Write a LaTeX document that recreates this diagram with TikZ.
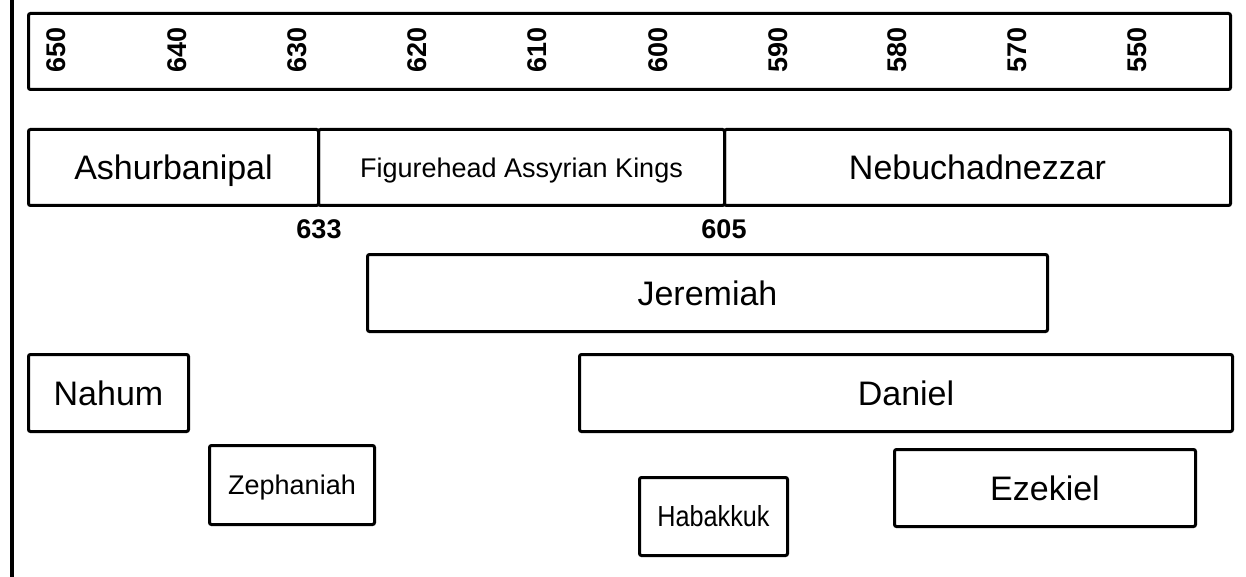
\documentclass[tikz,border=0pt]{standalone}
\usepackage{fontspec}
\setmainfont{Liberation Sans}
\begin{document}
\begin{tikzpicture}[x=1pt,y=-1pt,
  box/.style={draw, line width=3pt, rounded corners=2pt, inner sep=0pt, text depth=0pt, anchor=north west},
  big/.style={font=\fontsize{34}{40}\selectfont, text height=24.3pt},
  mid/.style={font=\fontsize{27}{32}\selectfont, text height=19.3pt},
  hab/.style={font=\fontsize{29}{34}\selectfont, text height=20.8pt, xscale=0.87},
  num/.style={font=\bfseries\fontsize{27}{31}\selectfont, inner sep=0pt},
  yr/.style={num, rotate=90}
]
\useasboundingbox (0,0) rectangle (1246,577);
% left rule
\coordinate (ltop) at (12,0);
\coordinate (lbot) at (12,577);
\draw[line width=3.5pt] (ltop) -- (lbot);

% timeline
\node[box, minimum width=1202pt, minimum height=76pt] (tl) at (27,12) {};
\node[yr] (y650) at (56,50) {650};
\node[yr] (y640) at (177,50) {640};
\node[yr] (y630) at (297,50) {630};
\node[yr] (y620) at (417,50) {620};
\node[yr] (y610) at (537,50) {610};
\node[yr] (y600) at (658,50) {600};
\node[yr] (y590) at (778,50) {590};
\node[yr] (y580) at (897,50) {580};
\node[yr] (y570) at (1017,50) {570};
\node[yr] (y550) at (1137,50) {550};

% kings
\node[box, big, minimum width=290pt, minimum height=76pt] (ash) at (27,128) {Ashurbanipal};
\node[box, mid, minimum width=406pt, minimum height=76pt] (fig) at (317,128) {Figurehead Assyrian Kings};
\node[box, big, minimum width=506pt, minimum height=76pt] (neb) at (723,128) {Nebuchadnezzar};
\node[num, anchor=base] (d633) at (319,238) {633};
\node[num, anchor=base] (d605) at (724,238) {605};

% prophets
\node[box, big, minimum width=680pt, minimum height=77pt] (jer) at (366,253) {Jeremiah};
\node[box, big, minimum width=160pt, minimum height=77pt] (nah) at (27,353) {Nahum};
\node[box, big, minimum width=653pt, minimum height=77pt] (dan) at (578,353) {Daniel};
\node[box, mid, minimum width=165pt, minimum height=79pt] (zep) at (208,444) {Zephaniah};
\node[box, minimum width=148pt, minimum height=78pt] (habbox) at (638,476) {};
\node[hab, inner sep=0pt, text depth=0pt] (hab) at (habbox.center) {Habakkuk};
\node[box, big, minimum width=301pt, minimum height=77pt] (eze) at (893,448) {Ezekiel};
\end{tikzpicture}
\end{document}
